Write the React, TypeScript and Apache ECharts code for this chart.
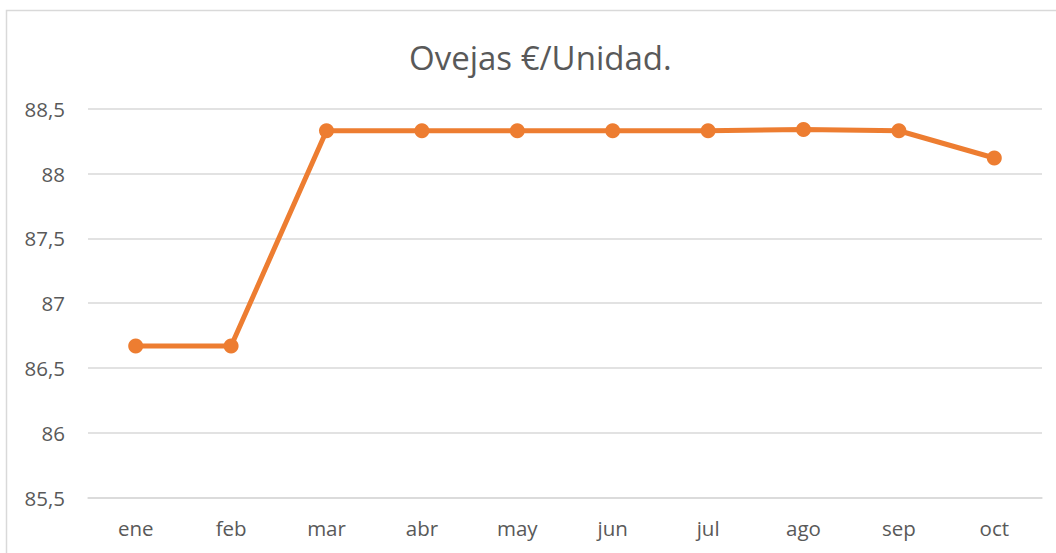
import React, { useEffect, useRef } from "react";
import * as echarts from "echarts";

const title = "Ovejas €/Unidad.";
const categories = ["ene", "feb", "mar", "abr", "may", "jun", "jul", "ago", "sep", "oct"];
const values = [86.67, 86.67, 88.33, 88.33, 88.33, 88.33, 88.33, 88.34, 88.33, 88.12];
const yMin = 85.5;
const yMax = 88.5;
const yStep = 0.5;

export default function App() {
  const ref = useRef<HTMLDivElement>(null);
  useEffect(() => {
    document.body.style.margin = "0";
    const chart = echarts.init(ref.current!, null, { renderer: "svg" });
    const font = "'Open Sans', 'Noto Sans', sans-serif";
    chart.setOption({
      animation: false,
      backgroundColor: "#ffffff",
      textStyle: { fontFamily: font },
      title: {
        text: title,
        left: 404,
        top: 36,
        textStyle: { fontFamily: font, fontSize: 33, fontWeight: "normal", color: "#595959" },
      },
      graphic: [
        {
          type: "rect",
          shape: { x: 6.5, y: 10.5, width: 1100, height: 600 },
          style: { fill: "none", stroke: "#d9d9d9", lineWidth: 1.5 },
          silent: true,
        },
      ],
      grid: { left: 88, right: 14, top: 108.7, bottom: 55.3, containLabel: false },
      xAxis: {
        type: "category",
        data: categories,
        boundaryGap: true,
        axisLine: { show: true, lineStyle: { color: "#d9d9d9", width: 1.5 } },
        axisTick: { show: false },
        axisLabel: { color: "#595959", fontSize: 20.5, fontFamily: font, margin: 20 },
      },
      yAxis: {
        type: "value",
        min: yMin,
        max: yMax,
        interval: yStep,
        axisLine: { show: false },
        axisTick: { show: false },
        splitLine: { lineStyle: { color: "#d9d9d9", width: 1.5 } },
        axisLabel: {
          color: "#595959",
          fontSize: 20.5,
          fontFamily: font,
          margin: 23,
          formatter: (v: number) => String(v).replace(".", ","),
        },
      },
      series: [
        {
          type: "line",
          data: values,
          symbol: "circle",
          symbolSize: 15,
          lineStyle: { color: "#ED7D31", width: 5 },
          itemStyle: { color: "#ED7D31" },
        },
      ],
    });
    return () => chart.dispose();
  }, []);
  return <div ref={ref} style={{ width: 1056, height: 553, position: "absolute", left: 0, top: 0 }} />;
}
